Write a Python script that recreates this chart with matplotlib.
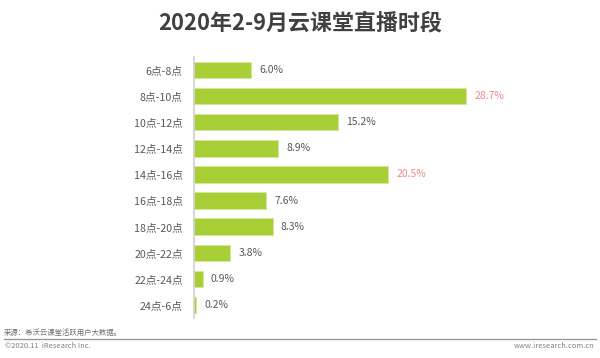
import matplotlib
matplotlib.use("Agg")
import matplotlib.pyplot as plt
from matplotlib.lines import Line2D

plt.rcParams['font.family'] = ['Noto Sans CJK SC', 'DejaVu Sans']

categories = ["6点-8点", "8点-10点", "10点-12点", "12点-14点", "14点-16点",
              "16点-18点", "18点-20点", "20点-22点", "22点-24点", "24点-6点"]
values = [6.0, 28.7, 15.2, 8.9, 20.5, 7.6, 8.3, 3.8, 0.9, 0.2]
highlight = ["8点-10点", "14点-16点"]

title = "2020年2-9月云课堂直播时段"
source = "来源：希沃云课堂活跃用户大数据。"
footer_left = "©2020.11  iResearch Inc."
footer_right = "www.iresearch.com.cn"

fig = plt.figure(figsize=(6, 3.58), dpi=100)
ax = fig.add_axes([0.3233, 0.1117, 0.6267, 0.7291])

pos = list(range(len(categories)))
ax.barh(pos, values, height=0.63, color="#a8cf36", edgecolor="#d4e89a", linewidth=0.6)
ax.set_ylim(len(categories) - 0.5, -0.5)
ax.set_xlim(0, 39.7)
ax.set_yticks(pos)
ax.set_yticklabels(categories, fontsize=7.7, color="#595959")
ax.tick_params(axis="y", length=0, pad=8)
ax.set_xticks([])
for s in ["top", "right", "bottom"]:
    ax.spines[s].set_visible(False)
ax.spines["left"].set_color("#d0d0d0")
ax.spines["left"].set_linewidth(1.2)

for p, v, c in zip(pos, values, categories):
    col = "#f08a8e" if c in highlight else "#595959"
    ax.annotate(f"{v:.1f}%", xy=(v, p), xytext=(6, 0), textcoords="offset points",
                va="center", ha="left", fontsize=7.5, color=col)

fig.text(0.5, 0.935, title, ha="center", va="center", fontsize=15.8,
         fontweight="bold", color="#404040")
fig.text(0.006, 0.070, source, ha="left", va="center", fontsize=5.3, color="#707070")
fig.add_artist(Line2D([0.006, 0.994], [0.053, 0.053], transform=fig.transFigure,
                      color="#999999", linewidth=1.0))
fig.text(0.008, 0.033, footer_left, ha="left", va="center", fontsize=5.4, color="#808080")
fig.text(0.991, 0.033, footer_right, ha="right", va="center", fontsize=5.4, color="#808080")

fig.savefig("out.png", dpi=100, facecolor="white")
